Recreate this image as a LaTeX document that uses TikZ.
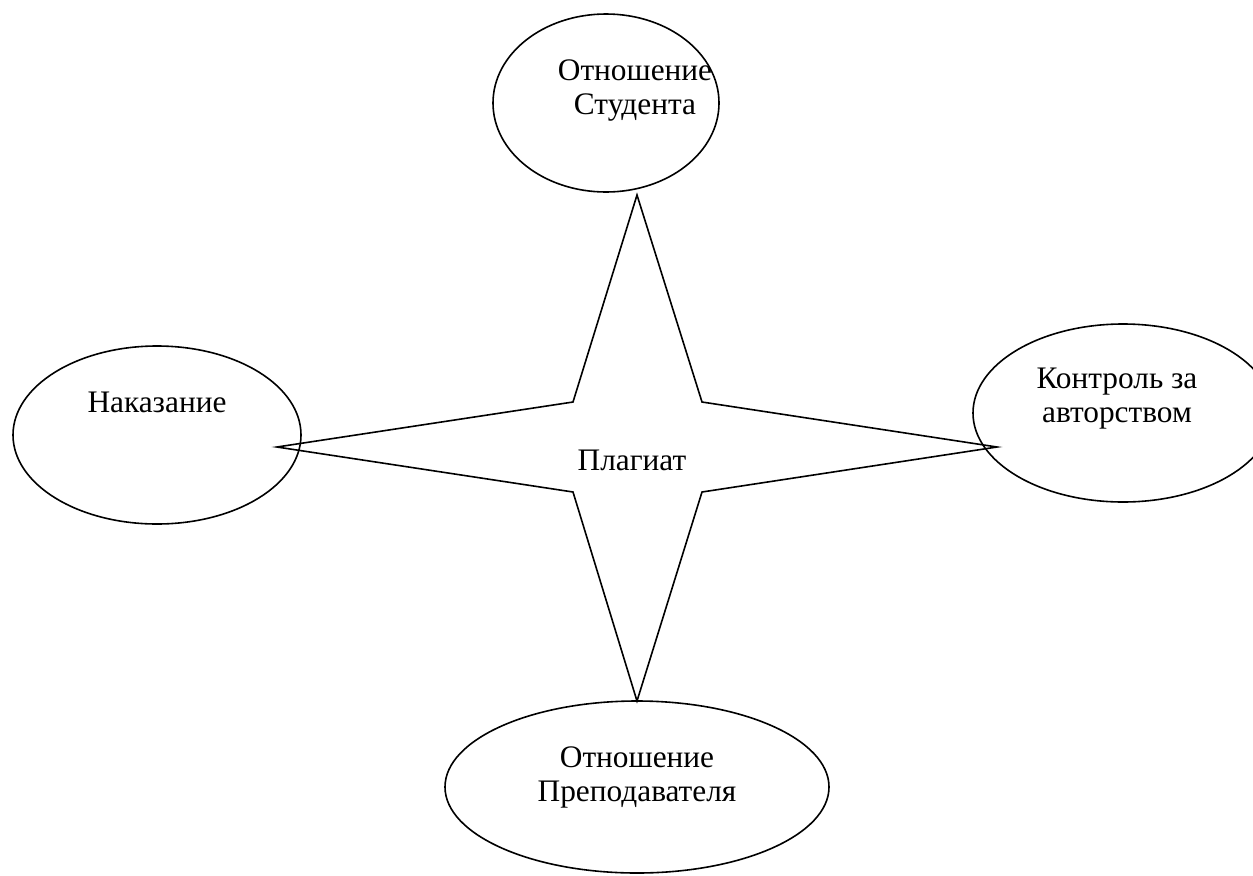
\documentclass[tikz,border=0pt]{standalone}
\usepackage{fontspec}
\setmainfont{Liberation Serif}
\usetikzlibrary{shapes.geometric}

\begin{document}
\begin{tikzpicture}[x=0.75pt, y=-0.75pt, line width=1.2pt,
  oval/.style={ellipse, draw, inner sep=0pt},
  lbl/.style={align=center, inner sep=0pt, font=\fontsize{23.5}{25.5}\selectfont}]
  \useasboundingbox (0,0) rectangle (1253,875);
  % ellipses round the star
  \node[oval, minimum width=169.5pt, minimum height=133.5pt] (stud) at (606,103)  {};
  \node[oval, minimum width=216pt,   minimum height=133.5pt] (nak)  at (157,435)  {};
  \node[oval, minimum width=225pt,   minimum height=133.5pt] (kontr) at (1123,413) {};
  \node[oval, minimum width=288pt,   minimum height=129pt]   (prep) at (637,787)  {};
  % star: tips and inner corners
  \coordinate (tn) at (637,195);
  \coordinate (te) at (997,447);
  \coordinate (ts) at (637,701);
  \coordinate (tw) at (277,447);
  \coordinate (ne) at (702,402);
  \coordinate (se) at (702,492);
  \coordinate (sw) at (573,492);
  \coordinate (nw) at (573,402);
  \draw (tn) -- (ne) -- (te) -- (se) -- (ts) -- (sw) -- (tw) -- (nw) -- cycle;
  % texts
  \node[lbl] (plag)     at (632,460)  {Плагиат};
  \node[lbl] (studtxt)  at (635,91)   {Отношение\\Студента};
  \node[lbl] (naktxt)   at (157,402)  {Наказание};
  \node[lbl] (kontrtxt) at (1117,399) {Контроль за\\авторством};
  \node[lbl] (preptxt)  at (637,777)  {Отношение\\Преподавателя};
\end{tikzpicture}
\end{document}
